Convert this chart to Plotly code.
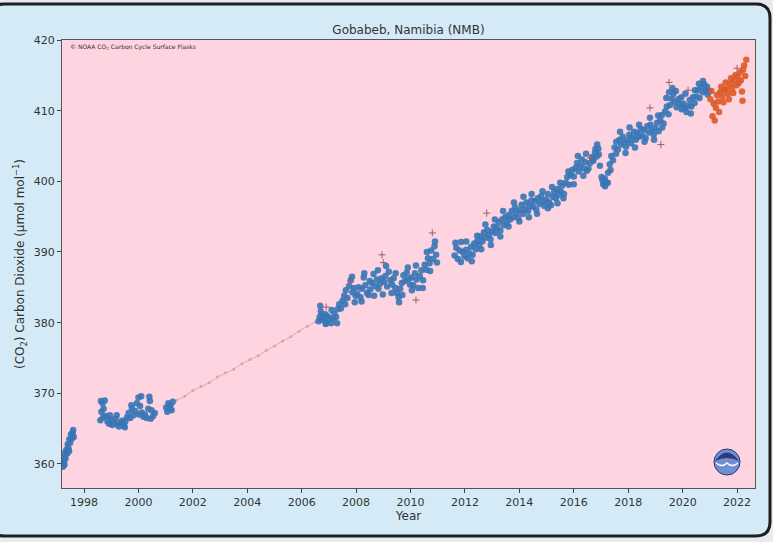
import plotly.graph_objects as go

# ---------------- data ----------------
blue_x = [
    1997.20, 1997.22, 1997.25, 1997.27, 1997.30, 1997.32, 1997.35, 1997.38, 1997.40, 1997.43, 1997.46, 1997.49, 1997.52, 1997.55, 1997.58, 1997.62,
    1998.60, 1998.64, 1998.68, 1998.72, 1998.76, 1998.80, 1998.86, 1998.92, 1998.98, 1999.04, 1999.10, 1999.16, 1999.22, 1999.28, 1999.34, 1999.40, 1999.46, 1999.52, 1999.58, 1999.64, 1999.70, 1999.76, 1999.82,
    1999.88, 1999.94, 2000.00, 2000.06, 2000.12, 2000.18, 2000.24, 2000.30, 2000.36, 2000.42, 2000.48, 2000.54, 2000.60,
    2001.02, 2001.06, 2001.10, 2001.14, 2001.18, 2001.22, 2001.26,
    2006.62, 2006.66, 2006.70, 2006.74, 2006.78, 2006.82, 2006.86, 2006.90, 2006.95,
    2007.02, 2007.08, 2007.14, 2007.20, 2007.26, 2007.32, 2007.38, 2007.44, 2007.50, 2007.56, 2007.62, 2007.68, 2007.74, 2007.80, 2007.86, 2007.92, 2007.98,
    2008.04, 2008.10, 2008.16, 2008.22, 2008.28, 2008.34, 2008.40, 2008.46, 2008.52, 2008.58, 2008.64, 2008.70, 2008.76, 2008.82, 2008.88, 2008.94,
    2009.02, 2009.08, 2009.14, 2009.20, 2009.26, 2009.32, 2009.38, 2009.44, 2009.50, 2009.56, 2009.62, 2009.68, 2009.74, 2009.80, 2009.86, 2009.92, 2009.98,
    2010.04, 2010.10, 2010.16, 2010.22, 2010.28, 2010.34, 2010.40, 2010.46, 2010.52, 2010.58, 2010.64, 2010.70, 2010.76, 2010.82, 2010.88, 2010.94,
    2011.62, 2011.68, 2011.74, 2011.80, 2011.86, 2011.92, 2011.98, 2012.04, 2012.10, 2012.16, 2012.22, 2012.28, 2012.34, 2012.40, 2012.46,
    2012.52, 2012.58, 2012.64, 2012.70, 2012.76, 2012.82, 2012.88, 2012.94, 2013.00, 2013.06, 2013.12, 2013.18, 2013.24, 2013.30, 2013.36, 2013.42, 2013.48,
    2013.54, 2013.60, 2013.66, 2013.72, 2013.78, 2013.84, 2013.90, 2013.96, 2014.02, 2014.08, 2014.14, 2014.20, 2014.26, 2014.32, 2014.38, 2014.44,
    2014.50, 2014.56, 2014.62, 2014.68, 2014.74, 2014.80, 2014.86, 2014.92, 2014.98, 2015.04, 2015.10, 2015.16, 2015.22, 2015.28, 2015.34, 2015.40, 2015.46,
    2015.52, 2015.58, 2015.64, 2015.70, 2015.76, 2015.82, 2015.88, 2015.94, 2016.00, 2016.06, 2016.12, 2016.18, 2016.24, 2016.30, 2016.36, 2016.42, 2016.48,
    2016.54, 2016.60, 2016.66, 2016.72, 2016.78, 2016.84, 2016.90, 2016.96, 2017.02, 2017.08, 2017.14, 2017.20, 2017.26, 2017.32, 2017.38, 2017.44,
    2017.50, 2017.56, 2017.62, 2017.68, 2017.74, 2017.80, 2017.86, 2017.92, 2017.98, 2018.04, 2018.10, 2018.16, 2018.22, 2018.28, 2018.34, 2018.40, 2018.46,
    2018.52, 2018.58, 2018.64, 2018.70, 2018.76, 2018.82, 2018.88, 2018.94, 2019.00, 2019.06, 2019.12, 2019.18, 2019.24, 2019.30, 2019.36, 2019.42, 2019.48,
    2019.54, 2019.60, 2019.66, 2019.72, 2019.78, 2019.84, 2019.90, 2019.96, 2020.02, 2020.08, 2020.14, 2020.20, 2020.26, 2020.32, 2020.38, 2020.44,
    2020.50, 2020.56, 2020.62, 2020.68, 2020.74, 2020.80, 2020.86, 2020.92, 2020.98,
]
blue_y = [
    360.2, 359.6, 361.0, 360.4, 361.6, 360.8, 362.0, 361.5, 362.8, 362.2, 363.5, 363.0, 364.2, 363.6, 364.4, 363.8,
    366.2, 367.4, 368.6, 367.8, 369.0, 366.8, 366.0, 365.7, 366.3, 365.5, 365.9, 366.4, 365.6, 365.3, 365.8, 366.1, 365.4, 366.0, 366.6, 367.2, 366.5, 367.8, 366.9,
    367.5, 368.6, 369.4, 368.2, 367.3, 366.7, 367.0, 366.5, 367.8, 368.9, 367.6, 366.8, 367.2,
    368.0, 367.4, 368.6, 367.8, 368.3, 367.6, 368.8,
    380.2, 380.8, 381.6, 380.4, 381.0, 380.6, 381.2, 380.0, 380.9,
    380.6, 379.9, 380.5, 381.2, 380.8, 381.9, 382.6, 382.0, 383.1, 383.8, 384.6, 383.5, 385.2, 386.0, 384.3, 384.9, 383.8,
    384.1, 385.0, 383.6, 384.8, 386.4, 385.3, 384.2, 383.9, 384.7, 385.6, 386.9, 385.2, 386.1, 384.8, 385.5, 386.3,
    385.8, 386.6, 385.1, 387.2, 386.0, 385.4, 386.3, 384.9, 384.2, 383.6, 384.8, 385.6, 386.7, 385.9, 387.1, 386.2, 385.4,
    386.4, 385.3, 387.0, 386.1, 384.9, 386.6, 387.4, 386.0, 388.2, 387.5, 389.1, 388.4, 390.2, 389.0, 390.8, 389.6,
    389.5, 390.6, 389.0, 390.2, 391.4, 390.0, 389.4, 390.3, 389.1, 389.8, 390.7, 389.6, 391.2, 390.4, 391.6,
    391.0, 392.2, 391.5, 392.8, 392.0, 393.1, 392.4, 391.8, 392.9, 393.6, 392.7, 393.4, 394.2, 393.0, 394.6, 393.8, 394.9,
    394.1, 395.2, 394.6, 395.8, 394.9, 396.3, 395.5, 394.8, 395.9, 396.7, 395.4, 396.1, 397.0, 395.8, 396.5, 397.3,
    396.4, 397.2, 396.0, 397.6, 396.8, 397.9, 397.1, 396.5, 397.4, 398.2, 397.0, 396.6, 397.8, 398.5, 397.6, 398.9, 398.1,
    398.6, 399.4, 398.2, 399.8, 400.6, 399.5, 400.9, 401.6, 400.7, 401.9, 402.6, 401.4, 402.2, 403.1, 401.8, 402.7, 401.5,
    401.8, 402.6, 403.4, 402.9, 404.1, 403.5, 404.6, 402.2, 400.6, 399.6, 400.4, 399.8, 401.2, 402.4, 403.6, 403.0,
    404.8, 405.6, 404.5, 405.9, 405.2, 406.3, 405.5, 404.9, 405.8, 406.6, 405.4, 406.2, 407.0, 405.9, 406.8, 406.3, 407.4,
    406.5, 407.3, 406.1, 407.8, 406.9, 408.0, 407.2, 406.6, 407.5, 408.3, 407.1, 408.6, 409.4, 408.2, 409.9, 410.6, 409.5,
    410.8, 411.7, 412.4, 411.2, 410.5, 411.6, 410.9, 410.2, 411.0, 410.4, 409.8, 410.7, 411.5, 410.6, 411.9, 411.1,
    412.0, 412.9, 411.8, 413.3, 412.6, 413.7, 412.9, 412.3, 412.8,
]

# additional flask samples at the upper / lower edges of the scatter band
blue_edge_x = [
    1997.28, 1997.45, 1997.60,
    1998.62, 1998.70, 1998.95, 1999.20, 1999.50, 1999.74,
    2000.02, 2000.10, 2000.40, 2000.45,
    2006.68, 2006.88, 2007.10, 2007.30, 2007.60, 2007.85, 2007.95,
    2008.20, 2008.30, 2008.50, 2008.66, 2008.80, 2008.98,
    2009.10, 2009.30, 2009.45, 2009.58, 2009.70, 2009.90,
    2010.05, 2010.20, 2010.45, 2010.60, 2010.72, 2010.90, 2010.97,
    2011.65, 2011.85, 2012.05, 2012.25, 2012.45,
    2012.60, 2012.75, 2012.95, 2013.10, 2013.30, 2013.40,
    2013.60, 2013.80, 2014.00, 2014.15, 2014.35, 2014.45,
    2014.65, 2014.85, 2015.05, 2015.20, 2015.40, 2015.50,
    2015.62, 2015.80, 2016.00, 2016.15, 2016.35, 2016.45,
    2016.70, 2016.80, 2016.86, 2016.92, 2017.05, 2017.15, 2017.25, 2017.35,
    2017.55, 2017.70, 2017.90, 2018.05, 2018.25, 2018.40,
    2018.60, 2018.80, 2018.95, 2019.10, 2019.25, 2019.40,
    2019.50, 2019.62, 2019.75, 2019.95, 2020.10, 2020.30, 2020.45,
    2020.60, 2020.75, 2020.90,
]
blue_edge_y = [
    359.9, 361.8, 364.8,
    368.9, 366.6, 366.9, 366.9, 365.2, 368.3,
    367.0, 369.6, 369.5, 366.4,
    382.4, 379.8, 381.8, 379.9, 382.6, 386.5, 382.9,
    383.0, 387.0, 385.9, 383.8, 387.4, 384.0,
    388.0, 384.2, 387.0, 382.9, 383.9, 387.8,
    384.6, 388.1, 384.9, 390.0, 387.3, 391.5, 388.5,
    391.3, 388.6, 391.5, 388.7, 392.3,
    390.4, 393.9, 391.0, 394.6, 392.2, 395.8,
    393.6, 397.0, 394.3, 397.8, 394.9, 398.2,
    395.4, 398.6, 396.2, 399.2, 396.9, 399.8,
    397.6, 401.4, 399.6, 403.6, 400.8, 403.9,
    403.2, 404.6, 405.2, 403.8, 400.2, 399.3, 399.8, 401.6,
    403.9, 407.0, 404.0, 407.6, 404.8, 408.0,
    405.6, 409.0, 405.9, 409.3, 407.6, 411.8,
    412.6, 413.2, 412.8, 411.9, 412.4, 409.6, 412.9,
    413.8, 414.2, 413.4,
]

orange_x = [
    2021.02, 2021.06, 2021.10, 2021.14, 2021.18, 2021.22, 2021.26, 2021.30, 2021.34, 2021.38, 2021.42, 2021.46,
    2021.50, 2021.54, 2021.58, 2021.62, 2021.66, 2021.70, 2021.74, 2021.78, 2021.82, 2021.86, 2021.90, 2021.94,
    2021.98, 2022.02, 2022.06, 2022.10, 2022.14, 2022.18, 2022.20, 2022.22, 2022.26, 2022.30, 2022.34,
]
orange_y = [
    411.6, 412.8, 409.2, 411.0, 408.6, 410.4, 412.2, 411.3, 409.8, 412.6, 413.4, 412.0,
    411.2, 412.9, 414.0, 413.1, 412.4, 411.6, 413.8, 414.6, 413.2, 412.5, 414.2, 415.0,
    413.6, 414.8, 413.9, 415.4, 414.3, 412.7, 411.4, 415.8, 416.4, 414.9, 417.2,
]

trend_x = [2001.4, 2001.7, 2002.0, 2002.3, 2002.6, 2002.9, 2003.2, 2003.5, 2003.8, 2004.1,
           2004.4, 2004.7, 2005.0, 2005.3, 2005.6, 2005.9, 2006.2, 2006.5]
trend_y = [369.0, 369.6, 370.4, 371.0, 371.5, 372.3, 372.9, 373.4, 374.2, 374.8,
           375.3, 376.1, 376.7, 377.4, 378.0, 378.8, 379.5, 380.1]

flag_x = [2006.9, 2007.8, 2008.95, 2009.0, 2010.2, 2010.8, 2012.8, 2016.6, 2018.8, 2019.2, 2019.5, 2020.2, 2022.0]
flag_y = [382.2, 385.8, 389.6, 388.5, 383.2, 392.7, 395.5, 403.3, 410.4, 405.2, 414.0, 412.9, 416.0]

year_ticks = [1998, 2000, 2002, 2004, 2006, 2008, 2010, 2012, 2014, 2016, 2018, 2020, 2022]
co2_ticks = [360, 370, 380, 390, 400, 410, 420]

# ---------------- figure ----------------
FONT = "DejaVu Sans"
fig = go.Figure()

fig.add_trace(go.Scatter(x=trend_x, y=trend_y, mode="lines+markers",
                         line=dict(color="#dcaab6", width=1),
                         marker=dict(size=3, color="#d8a2b0"), hoverinfo="skip"))
fig.add_trace(go.Scatter(x=blue_x + blue_edge_x, y=blue_y + blue_edge_y, mode="markers",
                         marker=dict(size=6.5, color="#3776b6", opacity=0.9,
                                     line=dict(width=0))))
fig.add_trace(go.Scatter(x=orange_x, y=orange_y, mode="markers",
                         marker=dict(size=6.5, color="#dd5a28", opacity=0.9,
                                     line=dict(width=0))))
fig.add_trace(go.Scatter(x=flag_x, y=flag_y, mode="markers",
                         marker=dict(size=5, symbol="cross-thin", color="#9a6070",
                                     line=dict(width=1, color="#9a6070"))))

# geometry helpers (plot area in pixels: x 62..755, y 40..488)
def px(x):
    return (x - 62) / 693.0

def py(y):
    return (488 - y) / 448.0

r = 14
fx0, fx1, fy0, fy1 = -10, 770, 4, 536
frame_path = (
    f"M {px(fx0 + r)},{py(fy0)} L {px(fx1 - r)},{py(fy0)} "
    f"Q {px(fx1)},{py(fy0)} {px(fx1)},{py(fy0 + r)} "
    f"L {px(fx1)},{py(fy1 - r)} Q {px(fx1)},{py(fy1)} {px(fx1 - r)},{py(fy1)} "
    f"L {px(fx0 + r)},{py(fy1)} Q {px(fx0)},{py(fy1)} {px(fx0)},{py(fy1 - r)} "
    f"L {px(fx0)},{py(fy0 + r)} Q {px(fx0)},{py(fy0)} {px(fx0 + r)},{py(fy0)} Z"
)

shapes = [
    dict(type="path", xref="paper", yref="paper", path=frame_path, layer="below",
         fillcolor="#d4ebf7", line=dict(color="#1e1e1e", width=3)),
    dict(type="rect", xref="paper", yref="paper", x0=0, x1=1, y0=0, y1=1, layer="below",
         fillcolor="#fdd4df", line=dict(width=0)),
    # NOAA logo
    dict(type="circle", xref="paper", yref="paper",
         x0=px(714), x1=px(740), y0=py(475), y1=py(449),
         fillcolor="#6f8fd0", line=dict(color="#2d3b78", width=1)),
    dict(type="path", xref="paper", yref="paper",
         path=(f"M {px(715)},{py(461)} Q {px(727)},{py(444)} {px(739)},{py(461)} "
               f"Q {px(727)},{py(455)} {px(715)},{py(461)} Z"),
         fillcolor="#2b3a78", line=dict(width=0)),
    dict(type="path", xref="paper", yref="paper",
         path=(f"M {px(716)},{py(463)} Q {px(722)},{py(468)} {px(727)},{py(463)} "
               f"Q {px(732)},{py(468)} {px(738)},{py(463)}"),
         line=dict(color="white", width=1.5)),
]

fig.update_layout(
    width=773, height=542,
    margin=dict(l=62, r=18, t=40, b=54),
    paper_bgcolor="#e6ebef",
    plot_bgcolor="#fdd4df",
    showlegend=False,
    font=dict(family=FONT, color="#333333", size=11),
    title=dict(text="Gobabeb, Namibia (NMB)", x=(408.5 / 773), xanchor="center",
               y=1 - 30 / 542, yanchor="middle",
               font=dict(family=FONT, size=12, color="#333333")),
    shapes=shapes,
    annotations=[dict(text="© NOAA CO<sub>2</sub> Carbon Cycle Surface Flasks",
                      xref="paper", yref="paper", x=px(68), y=py(47),
                      xanchor="left", yanchor="middle", showarrow=False,
                      font=dict(family=FONT, size=6, color="#3a2a30"))],
    xaxis=dict(range=[1997.19, 2022.66], tickvals=year_ticks,
               ticks="outside", ticklen=4, tickcolor="#444",
               showline=True, mirror=True, linecolor="#555", linewidth=1,
               showgrid=False, zeroline=False,
               tickfont=dict(size=11, color="#333"),
               title=dict(text="Year", font=dict(size=12, color="#333"), standoff=2)),
    yaxis=dict(range=[356.6, 420], tickvals=co2_ticks,
               ticks="outside", ticklen=4, tickcolor="#444",
               showline=True, mirror=True, linecolor="#555", linewidth=1,
               showgrid=False, zeroline=False,
               tickfont=dict(size=11, color="#333"),
               title=dict(text="(CO<sub>2</sub>) Carbon Dioxide (μmol mol<sup>−1</sup>)",
                          font=dict(size=12, color="#333"), standoff=6)),
)

fig.write_html("out.html")
